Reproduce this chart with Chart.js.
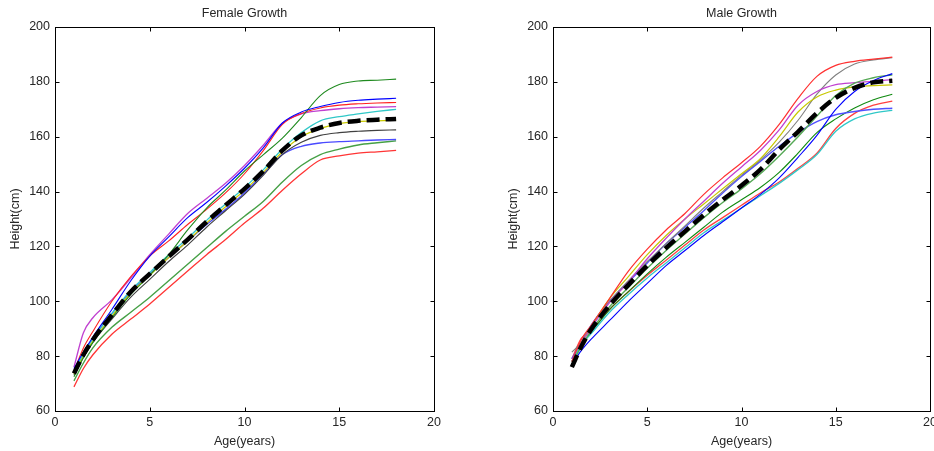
<!DOCTYPE html>
<html><head><meta charset="utf-8">
<script src="https://cdn.jsdelivr.net/npm/chart.js@4"></script>
<style>
html,body{margin:0;padding:0;width:934px;height:451px;overflow:hidden;background:#fff;}
.box{position:absolute;top:0;height:451px;}
#fbox{left:0;width:467px;}
#mbox{left:498px;width:452px;}
</style></head><body>
<div class="box" id="fbox"><canvas id="female" width="467" height="451"></canvas></div>
<div class="box" id="mbox"><canvas id="male" width="452" height="451"></canvas></div>
<script>
// ---- data ----
const ages = [1, 1.5, 2, 3, 4, 5, 6, 7, 8, 9, 10, 11, 12, 13, 14, 15, 16, 17, 18];
const xTicks = [0, 5, 10, 15, 20];
const yTicks = [60, 80, 100, 120, 140, 160, 180, 200];

// Female growth curves (cm)
const fBlue1   = [75.5, 81.5, 87, 97, 107.5, 116.5, 123.5, 130.5, 136, 142, 148.5, 156, 165, 169, 171, 172.5, 173.3, 173.7, 174];
const fGreen1  = [72.5, 79.5, 85, 94, 102.5, 109.5, 117, 126, 134, 140.5, 147.5, 153.5, 159.5, 167, 175, 179, 180.3, 180.6, 181];
const fRed1    = [74.5, 83, 89, 100, 109, 116.5, 122, 128, 133.5, 139.5, 146.5, 155, 164.5, 168.5, 170.5, 171.5, 172, 172.3, 172.5];
const fCyan    = [74.5, 81, 86.5, 95.5, 104, 110.5, 117, 123, 129.5, 135.5, 141.5, 148, 155.5, 161.5, 165.8, 167.3, 168.3, 169.2, 170];
const fMagenta = [76, 88.5, 94, 100.5, 108.5, 117, 124.5, 132, 137.5, 143, 149.5, 157, 165, 168.3, 169.5, 170.2, 170.6, 170.8, 171];
const fYellow  = [73.5, 80, 85.5, 94.5, 103, 109.5, 116, 122, 128.5, 134.5, 140.5, 147, 154.5, 160, 163, 164.8, 165.5, 165.8, 166];
const fBlack   = [73, 79.5, 85, 93.5, 101.5, 108, 114.5, 120.5, 127, 133, 139, 146, 153.5, 158, 160.5, 161.5, 162, 162.3, 162.5];
const fBlue2   = [74, 81, 86.5, 95.5, 103.5, 110, 116, 122, 128, 133.5, 139.5, 146.5, 153.5, 156.5, 157.7, 158.2, 158.5, 158.8, 159];
const fGreen2  = [71, 77.5, 83, 90.5, 96, 101.5, 107.5, 113.5, 119.5, 125.5, 131, 136.5, 143.5, 149.5, 153.5, 155.5, 157, 157.8, 158.5];
const fRed2    = [68.8, 75.5, 80.5, 88, 93.5, 99, 105, 111, 117, 122.5, 128.5, 134, 140.5, 146.5, 151.5, 153, 154, 154.5, 155];
const fMean    = [73.7, 80.5, 86, 95, 103.5, 110, 116.3, 122.5, 129, 135, 141, 147.5, 155, 160.5, 163.3, 165, 165.8, 166.2, 166.5];

// Male growth curves (cm)
const mBlue1   = [77, 82, 86, 93, 100, 106.5, 113, 118.5, 124, 129, 134, 139, 145, 152.5, 160.5, 170, 176.5, 180.5, 183];
const mGreen1  = [77, 83.5, 89, 98, 105, 112, 118.5, 124.5, 130.5, 136, 141, 146.5, 153, 160, 167.5, 175, 179.5, 181.5, 182.6];
const mRed1    = [78, 86, 91, 101, 111, 119, 126, 132, 139, 145, 150.5, 156.5, 164.5, 174, 182, 186, 187.5, 188.3, 189];
const mCyan    = [78, 84, 88, 96, 102.5, 108.5, 114, 119.5, 125, 129.5, 134, 138.5, 143, 148, 153.5, 162, 166.5, 168.6, 169.6];
const mMagenta = [78, 84.5, 90, 99.5, 107, 115.5, 123, 130, 136.5, 143, 149, 155, 162.5, 171.5, 176.5, 179, 179.7, 180.2, 180.8];
const mYellow  = [78, 84.5, 90.5, 101, 109, 117, 124, 130, 135.5, 141, 146.5, 152, 160, 169, 174.5, 177, 178.2, 178.6, 178.9];
const mBlack   = [81.5, 85, 90.5, 100, 107.5, 114.5, 121, 127.5, 134, 140, 146, 151.5, 158, 166, 175.5, 182.5, 186.5, 188, 188.8];
const mBlue2   = [79, 85, 91, 100, 107, 114, 121, 127, 133, 139.5, 145.5, 151, 156.5, 161.5, 165.5, 168, 169.2, 170, 170.4];
const mGreen2  = [78, 84, 88.5, 97, 103.5, 110, 116, 121.5, 127, 132.5, 137, 141.5, 147, 154, 161.5, 166.5, 170.5, 173.5, 175.5];
const mRed2    = [79, 86.5, 89, 97, 103.5, 109.5, 115, 120.5, 126, 130.5, 135, 139.5, 143.5, 148.5, 154, 163, 168.5, 171.5, 173];
const mMean    = [76, 83.5, 89.5, 98.5, 106, 113, 119.5, 125.5, 131.5, 137, 142.2, 148, 155.3, 161.8, 168.6, 174.2, 177.8, 179.8, 180.4];

// ---- styles ----
const FONT = '"Liberation Sans", Arial, sans-serif';
const TXT = '#262626';

function pts(arr){ return ages.map((a,i)=>({x:a, y:arr[i]})); }
function line(arr, color, w){
  return {data: pts(arr), borderColor: color, borderWidth: w || 1.1, pointRadius: 0,
          cubicInterpolationMode: 'monotone', fill: false, order: 1};
}
function meanLine(arr){
  return {data: pts(arr), borderColor: '#000', borderWidth: 4.5, borderDash: [13, 6],
          borderCapStyle: 'butt', pointRadius: 0, cubicInterpolationMode: 'monotone', fill: false, order: 0};
}

const framePlugin = {
  id: 'frame',
  afterDraw(chart, args, opts) {
    const {ctx, chartArea: a, scales: {x, y}} = chart;
    ctx.save();
    ctx.strokeStyle = '#000'; ctx.lineWidth = 1;
    const l = Math.round(a.left)+0.5, r = Math.round(a.right)+0.5, t = Math.round(a.top)+0.5, b = Math.round(a.bottom)+0.5;
    ctx.strokeRect(l, t, r-l, b-t);
    const L = 4;
    ctx.beginPath();
    xTicks.forEach(v => { if (v===xTicks[0]||v===xTicks[xTicks.length-1]) return;
      const px = Math.round(x.getPixelForValue(v))+0.5;
      ctx.moveTo(px, b); ctx.lineTo(px, b-L); ctx.moveTo(px, t); ctx.lineTo(px, t+L); });
    yTicks.forEach(v => { if (v===yTicks[0]||v===yTicks[yTicks.length-1]) return;
      const py = Math.round(y.getPixelForValue(v))+0.5;
      ctx.moveTo(l, py); ctx.lineTo(l+L, py); ctx.moveTo(r, py); ctx.lineTo(r-L, py); });
    ctx.stroke();
    ctx.fillStyle = TXT; ctx.font = '12.5px ' + FONT; ctx.textAlign = 'center'; ctx.textBaseline = 'middle';
    ctx.fillText(opts.text, (a.left + a.right)/2, 14);
    ctx.restore();
  }
};

function makeChart(id, datasets, title, padRight){
  return new Chart(document.getElementById(id), {
    type: 'line',
    data: {datasets},
    plugins: [framePlugin],
    options: {
      responsive: false, animation: false, devicePixelRatio: 1,
      layout: {padding: {left: 0, right: padRight, top: 27, bottom: 0}},
      plugins: {legend: {display: false}, tooltip: {enabled: false}, frame: {text: title}},
      scales: {
        x: {type: 'linear', min: 0, max: 20,
            afterBuildTicks: s => { s.ticks = xTicks.map(v => ({value: v})); },
            ticks: {font: {family: FONT, size: 12.5}, color: TXT, padding: 4, maxRotation: 0},
            grid: {display: false, drawTicks: false}, border: {display: true, color: '#000', width: 1},
            title: {display: true, text: 'Age(years)', font: {family: FONT, size: 12.5}, color: TXT, padding: {top: 4, bottom: 2}},
            afterFit: s => { s.height = 40; }},
        y: {type: 'linear', min: 60, max: 200,
            afterBuildTicks: s => { s.ticks = yTicks.map(v => ({value: v})); },
            ticks: {font: {family: FONT, size: 12.5}, color: TXT, padding: 5},
            grid: {display: false, drawTicks: false}, border: {display: true, color: '#000', width: 1},
            title: {display: true, text: 'Height(cm)', font: {family: FONT, size: 12.5}, color: TXT, padding: {top: 8, bottom: 4}},
            afterFit: s => { s.width = 55; }}
      }
    }
  });
}

makeChart('female', [
  meanLine(fMean),
  line(fBlue1, '#0000ff'), line(fGreen1, '#1f8a1f'), line(fRed1, '#ff2020'),
  line(fCyan, '#30c8c8', 1.3), line(fMagenta, '#c040d0', 1.3), line(fYellow, '#c8c800', 1.3),
  line(fBlack, '#404040'), line(fBlue2, '#4a4aff', 1.4), line(fGreen2, '#45a045', 1.4), line(fRed2, '#ff3535', 1.3)
], 'Female Growth', 33);

makeChart('male', [
  meanLine(mMean),
  line(mBlue1, '#0000ff'), line(mGreen1, '#55a855', 1.4), line(mRed1, '#ff3030', 1.2),
  line(mCyan, '#30c8c8', 1.3), line(mMagenta, '#c040d0', 1.3), line(mYellow, '#c8c800', 1.2),
  line(mBlack, '#808080'), line(mBlue2, '#5050ff', 1.4), line(mGreen2, '#108a10'), line(mRed2, '#ff4040', 1.3)
], 'Male Growth', 20);
</script>
</body></html>
